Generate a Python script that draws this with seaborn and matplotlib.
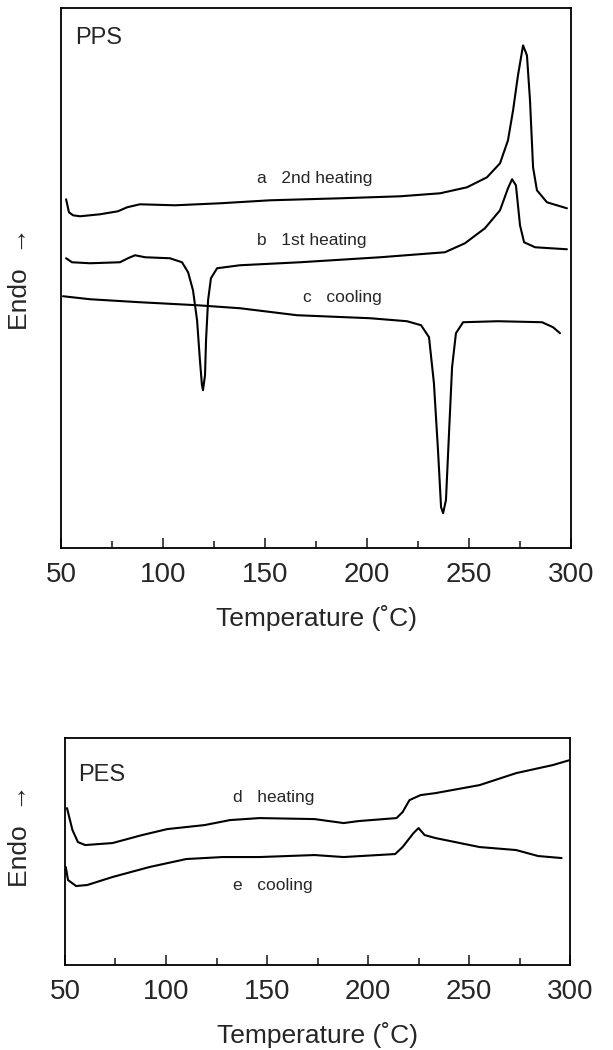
import numpy as np
import pandas as pd
import seaborn as sns
import matplotlib.pyplot as plt
from matplotlib.ticker import MultipleLocator

# PPS traces (temperature in C, heat flow in arbitrary units, endo up)
a_temp = [52.5, 53.9, 55.9, 59.3, 69.1, 77.9, 82.4, 88.7, 105.9, 127.9, 152.5, 186.8,
          216.2, 235.8, 249.0, 258.8, 265.2, 269.1, 271.6, 274.0, 276.5, 278.4, 279.9,
          281.4, 283.3, 288.2, 298.0]
a_flow = [349, 336, 333, 332, 334, 337, 341, 344, 343, 345, 348, 350,
          352, 355, 361, 371, 385, 408, 438, 473, 503, 493, 448,
          381, 358, 346, 340]

b_temp = [52.5, 55.4, 64.2, 78.9, 82.8, 86.3, 91.2, 103.4, 109.3, 112.3, 114.7, 116.7,
          118.1, 119.1, 119.6, 120.6, 121.1, 122.1, 123.5, 126.5, 137.7, 167.2, 206.4,
          238.2, 248.0, 257.8, 265.2, 269.1, 271.1, 273.0, 275.0, 277.0, 282.4, 298.0]
b_flow = [290, 286, 285, 286, 290, 293, 291, 290, 286, 276, 258, 228,
          188, 163, 158, 173, 208, 248, 270, 280, 283, 286, 291,
          296, 305, 320, 338, 360, 369, 363, 323, 306, 301, 299]

c_temp = [51.0, 64.2, 88.7, 116.7, 137.7, 165.7, 201.5, 219.6, 226.5, 230.4, 232.8,
          234.8, 236.3, 237.3, 238.7, 240.2, 241.7, 243.6, 247.1, 264.2, 285.8, 291.2, 294.6]
c_flow = [252, 249, 246, 243, 240, 233, 230, 227, 223, 211, 165,
          98, 41, 35, 48, 115, 181, 215, 226, 227, 226, 221, 215]

# PES traces
d_temp = [51.0, 53.7, 56.4, 60.0, 73.5, 88.2, 100.7, 119.1, 131.7, 146.3, 173.5,
          187.9, 195.3, 214.1, 217.1, 220.5, 226.0, 233.4, 255.2, 273.3, 291.3, 299.8]
d_flow = [157, 135, 123, 120, 122, 130, 136, 140, 145, 147, 146,
          142, 144, 147, 153, 165, 170, 172, 180, 192, 200, 205]

e_temp = [50.4, 51.5, 55.5, 61.0, 73.5, 91.8, 110.0, 128.0, 146.3, 173.5, 187.9,
          213.4, 217.1, 222.5, 225.0, 228.0, 233.4, 255.2, 273.3, 284.2, 295.8]
e_flow = [98, 85, 79, 80, 88, 98, 106, 108, 108, 110, 108,
          111, 118, 132, 137, 130, 127, 118, 115, 109, 107]

x_ticks = [50, 100, 150, 200, 250, 300]

sns.set_theme(style="ticks")
plt.rcParams['font.family'] = ['Liberation Sans', 'DejaVu Sans']

fig = plt.figure(figsize=(6.13, 10.5), dpi=100)
ax1 = fig.add_axes([0.0995, 0.478, 0.832, 0.514])
ax2 = fig.add_axes([0.106, 0.081, 0.824, 0.216])

for t, f in [(a_temp, a_flow), (b_temp, b_flow), (c_temp, c_flow)]:
    sns.lineplot(x=t, y=f, ax=ax1, color='black', linewidth=1.5, sort=False)
for t, f in [(d_temp, d_flow), (e_temp, e_flow)]:
    sns.lineplot(x=t, y=f, ax=ax2, color='black', linewidth=1.5, sort=False)

ax1.set_ylim(0, 540)
ax2.set_ylim(0, 227)

for ax in (ax1, ax2):
    ax.set_xlim(50, 300)
    ax.set_xticks(x_ticks)
    ax.xaxis.set_minor_locator(MultipleLocator(25))
    ax.tick_params(axis='x', which='major', direction='in', length=7, width=1.2,
                   labelsize=20, pad=10)
    ax.tick_params(axis='x', which='minor', direction='in', length=5, width=1.2)
    ax.set_yticks([])
    for s in ax.spines.values():
        s.set_linewidth(1.3)
        s.set_color('black')
    ax.set_xlabel('Temperature (˚C)', fontsize=19, labelpad=12)
    ax.set_ylabel('Endo  →', fontsize=19)

ax1.yaxis.set_label_coords(-0.057, 0.5)
ax2.yaxis.set_label_coords(-0.065, 0.57)

ax1.text(0.027, 0.946, 'PPS', transform=ax1.transAxes, fontsize=17, va='center')
ax2.text(0.027, 0.837, 'PES', transform=ax2.transAxes, fontsize=17, va='center')

ax1.text(146, 370, 'a   2nd heating', fontsize=12.5, va='center')
ax1.text(146, 308, 'b   1st heating', fontsize=12.5, va='center')
ax1.text(168.6, 251, 'c   cooling', fontsize=12.5, va='center')
ax2.text(133.4, 168, 'd   heating', fontsize=12.5, va='center')
ax2.text(133.4, 80, 'e   cooling', fontsize=12.5, va='center')

fig.savefig('out.png', dpi=100)
